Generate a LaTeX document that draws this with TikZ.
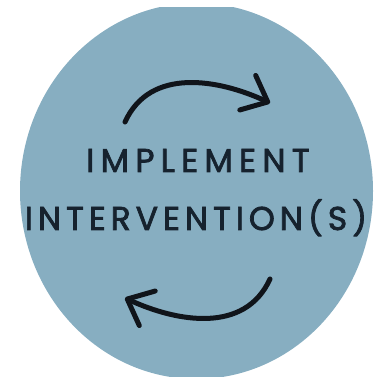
\documentclass[tikz,border=0pt]{standalone}
\usepackage{fontspec}
\setmainfont{Poppins}[LetterSpace=15, FakeBold=2.2]
\usetikzlibrary{arrows.meta}

\definecolor{discblue}{RGB}{135,174,193}
\definecolor{inkblack}{RGB}{16,20,26}
\definecolor{textnavy}{RGB}{22,34,46}

\begin{document}
\begin{tikzpicture}[x=1pt, y=1pt]
	\tikzstyle{disc} = [fill=discblue]
	\tikzstyle{caption} = [anchor=base, inner sep=0pt, text=textnavy, 
	font=\fontsize{33}{33}\selectfont]
	\tikzstyle{arrow} = [line width=5pt, line cap=round, draw=inkblack, 
	-{Straight Barb[length=22pt, width=38pt, round]}]
	\useasboundingbox (0,0) rectangle (375,379);
	\begin{scope}
		\clip (0,2) rectangle (375,371);
		\fill [disc] (196.5,188) ellipse [x radius=176.5, y radius=188];
	\end{scope}
	\node (implement) [caption] at (198,207) {\addfontfeatures{LetterSpace=19}IMPLEMENT};
	\node (intervention) [caption] at (196,149) {INTERVENTION(S)};
	\coordinate (topStart) at (125,257);
	\coordinate (topEnd) at (270,276);
	\coordinate (bottomStart) at (270,100);
	\coordinate (bottomEnd) at (125,81);
	\draw [arrow] (topStart) .. controls (150,312) and (218,300) .. (topEnd);
	\draw [arrow] (bottomStart) .. controls (245,45) and (177,57) .. (bottomEnd);
\end{tikzpicture}
\end{document}
